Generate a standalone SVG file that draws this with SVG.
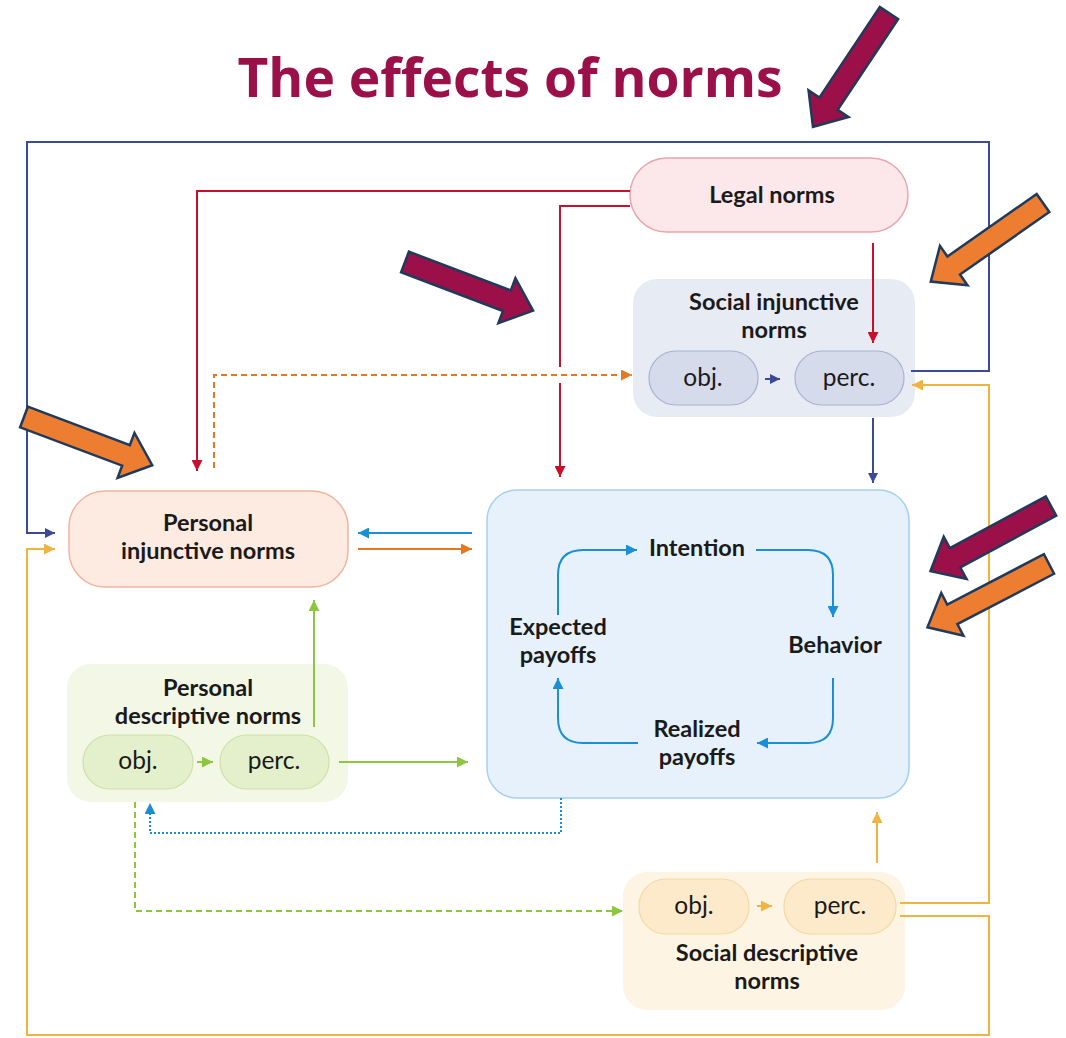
<svg xmlns="http://www.w3.org/2000/svg" width="1066" height="1038" viewBox="0 0 1066 1038">
<style>
.t{font-family:Lato,"Open Sans","Liberation Sans",sans-serif;font-weight:bold;font-size:23.5px;fill:#1a1a1a;text-anchor:middle}
.p{font-family:Lato,"Open Sans","Liberation Sans",sans-serif;font-weight:normal;font-size:24.5px;fill:#1a1a1a;text-anchor:middle}
.c{fill:none;stroke-width:2}
.big{stroke:#203A5C;stroke-width:2.5;stroke-linejoin:miter}
</style>
<defs>
<marker id="mNavy" viewBox="0 0 10 10" refX="10" refY="5" markerWidth="10" markerHeight="10" markerUnits="userSpaceOnUse" orient="auto"><path d="M0,0 L10,5 L0,10 z" fill="#3A4A96"/></marker>
<marker id="mRed" viewBox="0 0 10 10" refX="10" refY="5" markerWidth="11" markerHeight="11" markerUnits="userSpaceOnUse" orient="auto"><path d="M0,0 L10,5 L0,10 z" fill="#C8102E"/></marker>
<marker id="mOrange" viewBox="0 0 10 10" refX="10" refY="5" markerWidth="11" markerHeight="11" markerUnits="userSpaceOnUse" orient="auto"><path d="M0,0 L10,5 L0,10 z" fill="#E87722"/></marker>
<marker id="mBlue" viewBox="0 0 10 10" refX="10" refY="5" markerWidth="11" markerHeight="11" markerUnits="userSpaceOnUse" orient="auto"><path d="M0,0 L10,5 L0,10 z" fill="#1A8FD6"/></marker>
<marker id="mGreen" viewBox="0 0 10 10" refX="10" refY="5" markerWidth="11" markerHeight="11" markerUnits="userSpaceOnUse" orient="auto"><path d="M0,0 L10,5 L0,10 z" fill="#8DC63F"/></marker>
<marker id="mYellow" viewBox="0 0 10 10" refX="10" refY="5" markerWidth="11" markerHeight="11" markerUnits="userSpaceOnUse" orient="auto"><path d="M0,0 L10,5 L0,10 z" fill="#F2B441"/></marker>
<path id="blk" d="M0,-11 L109,-11 L109,-24 L137,0 L109,24 L109,11 L0,11 Z"/>
</defs>
<rect width="1066" height="1038" fill="#ffffff"/>

<text x="510" y="97" font-family="'Open Sans','Liberation Sans',sans-serif" font-weight="bold" font-size="54" fill="#9B1048" text-anchor="middle" textLength="545" lengthAdjust="spacingAndGlyphs">The effects of norms</text>

<g id="legal-norms">
<rect x="630" y="158" width="278" height="74" rx="37" fill="#FCE8EA" stroke="#E8A4AC" stroke-width="1.5"/>
<text class="t" x="772" y="203">Legal norms</text>
</g>

<g id="social-injunctive-norms">
<rect x="633" y="279" width="282" height="138" rx="24" fill="#E7EBF4"/>
<text class="t" x="774" y="310">Social injunctive</text>
<text class="t" x="774" y="338">norms</text>
<rect x="649" y="351" width="109" height="54" rx="27" fill="#D6DBEC" stroke="#A9B1D0" stroke-width="1.2"/>
<text class="p" x="703" y="386">obj.</text>
<rect x="795" y="351" width="109" height="54" rx="27" fill="#D6DBEC" stroke="#A9B1D0" stroke-width="1.2"/>
<text class="p" x="849" y="386">perc.</text>
</g>

<g id="personal-injunctive-norms">
<rect x="69" y="491" width="279" height="96" rx="36" fill="#FDEAE0" stroke="#F2B49A" stroke-width="1.5"/>
<text class="t" x="208" y="531">Personal</text>
<text class="t" x="208" y="559">injunctive norms</text>
</g>

<g id="personal-descriptive-norms">
<rect x="67" y="664" width="281" height="138" rx="24" fill="#F2F7E6"/>
<text class="t" x="208" y="696">Personal</text>
<text class="t" x="208" y="724">descriptive norms</text>
<rect x="83" y="735" width="110" height="54" rx="27" fill="#E4F0CB" stroke="#CFE0A8" stroke-width="1.2"/>
<text class="p" x="138" y="769">obj.</text>
<rect x="220" y="735" width="109" height="54" rx="27" fill="#E4F0CB" stroke="#CFE0A8" stroke-width="1.2"/>
<text class="p" x="274" y="769">perc.</text>
</g>

<g id="behavior-cycle">
<rect x="487" y="490" width="422" height="308" rx="30" fill="#E6F1FB" stroke="#A6D0F0" stroke-width="1.5"/>
<text class="t" x="697" y="556">Intention</text>
<text class="t" x="835" y="653">Behavior</text>
<text class="t" x="697" y="737">Realized</text>
<text class="t" x="697" y="765">payoffs</text>
<text class="t" x="558" y="635">Expected</text>
<text class="t" x="558" y="663">payoffs</text>
</g>

<g id="social-descriptive-norms">
<rect x="623" y="872" width="282" height="138" rx="24" fill="#FDF4E3"/>
<rect x="639" y="879" width="110" height="55" rx="27" fill="#FCEACB" stroke="#F5D9A3" stroke-width="1.2"/>
<text class="p" x="694" y="914">obj.</text>
<rect x="784" y="879" width="112" height="55" rx="27" fill="#FCEACB" stroke="#F5D9A3" stroke-width="1.2"/>
<text class="p" x="840" y="914">perc.</text>
<text class="t" x="767" y="961">Social descriptive</text>
<text class="t" x="767" y="989">norms</text>
</g>

<g id="connectors">
<path class="c" stroke="#3A4A96" d="M911,371 H989 V142 H27 V533 H55" marker-end="url(#mNavy)"/>
<path class="c" stroke="#F2B441" d="M900,903 H989 V385 H912" marker-end="url(#mYellow)"/>
<path class="c" stroke="#F2B441" d="M900,916 H989 V1035 H27 V549 H55" marker-end="url(#mYellow)"/>
<path class="c" stroke="#C8102E" d="M630,191 H197 V471" marker-end="url(#mRed)"/>
<path class="c" stroke="#C8102E" d="M630,206 H560 V367"/>
<path class="c" stroke="#C8102E" d="M560,383 V477" marker-end="url(#mRed)"/>
<path class="c" stroke="#C8102E" d="M873,243 V343" marker-end="url(#mRed)"/>
<path class="c" stroke="#E87722" stroke-dasharray="6 4" d="M214,468 V375 H632" marker-end="url(#mOrange)"/>
<path class="c" stroke="#3A4A96" d="M873,418 V483" marker-end="url(#mNavy)"/>
<path class="c" stroke="#3A4A96" d="M765,379 H780" marker-end="url(#mNavy)"/>
<path class="c" stroke="#1A8FD6" d="M472,533 H358" marker-end="url(#mBlue)"/>
<path class="c" stroke="#E87722" d="M358,549 H472" marker-end="url(#mOrange)"/>
<path class="c" stroke="#8DC63F" d="M314,727 V600" marker-end="url(#mGreen)"/>
<path class="c" stroke="#8DC63F" d="M197,762 H213" marker-end="url(#mGreen)"/>
<path class="c" stroke="#8DC63F" d="M339,762 H468" marker-end="url(#mGreen)"/>
<path class="c" stroke="#8DC63F" stroke-dasharray="6 4" d="M135,802 V911 H623" marker-end="url(#mGreen)"/>
<path class="c" stroke="#1A8FD6" stroke-width="1.5" stroke-dasharray="2 2" d="M561,798 V833 H150 V803" marker-end="url(#mBlue)"/>
<path class="c" stroke="#F2B441" d="M877,863 V812" marker-end="url(#mYellow)"/>
<path class="c" stroke="#F2B441" d="M757,906 H772" marker-end="url(#mYellow)"/>
<path class="c" stroke="#1A8FD6" stroke-width="2.5" d="M558,615 V575 Q558,550 583,550 H637" marker-end="url(#mBlue)"/>
<path class="c" stroke="#1A8FD6" stroke-width="2.5" d="M756,550 H808 Q833,550 833,575 V617" marker-end="url(#mBlue)"/>
<path class="c" stroke="#1A8FD6" stroke-width="2.5" d="M833,678 V718 Q833,743 808,743 H757" marker-end="url(#mBlue)"/>
<path class="c" stroke="#1A8FD6" stroke-width="2.5" d="M638,743 H583 Q558,743 558,718 V678" marker-end="url(#mBlue)"/>
</g>

<g id="highlight-arrows">
<use href="#blk" class="big" fill="#9B1048" transform="translate(889,13) rotate(123.7)"/>
<use href="#blk" class="big" fill="#9B1048" transform="translate(405,262) rotate(20.8)"/>
<use href="#blk" class="big" fill="#ED7D31" transform="translate(1043,203) rotate(145)"/>
<use href="#blk" class="big" fill="#ED7D31" transform="translate(24,417) rotate(20.6)"/>
<use href="#blk" class="big" fill="#9B1048" transform="translate(1051,506) rotate(151.6)"/>
<use href="#blk" class="big" fill="#ED7D31" transform="translate(1049,564) rotate(152.5)"/>
</g>
</svg>
